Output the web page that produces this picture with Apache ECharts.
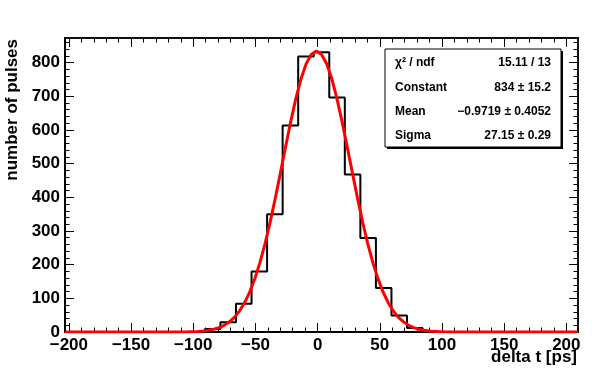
<!DOCTYPE html>
<html>
<head>
<meta charset="utf-8">
<script src="https://cdn.jsdelivr.net/npm/echarts@6/dist/echarts.min.js"></script>
<style>
  html, body { margin: 0; padding: 0; background: #fff; }
  #chart { width: 598px; height: 370px; }
</style>
</head>
<body>
<div id="chart"></div>
<script>
// histogram range and binning
var xMin = -203.125;
var xMax = 209.375;
var binWidth = 12.5;
var yMax = 873;

// bin contents, left to right
var counts = [0, 0, 0, 0, 0, 0, 0, 0, 0,
    9, 29, 84, 180, 350, 613, 818, 831, 696, 468, 279, 131, 49, 12,
    0, 0, 0, 0, 0, 0, 0, 0, 0, 0];

// gaussian fit result (from stats box)
var fitConstant = 834;
var fitMean = -0.9719;
var fitSigma = 27.15;
var fitNpx = 100;

var statsLabels = ['\u03c7\u00b2 / ndf', 'Constant', 'Mean', 'Sigma'];
var statsValues = ['15.11 / 13', '834 \u00b1 15.2', '\u22120.9719 \u00b1 0.4052', '27.15 \u00b1 0.29'];

var xMajor = [-200, -150, -100, -50, 0, 50, 100, 150, 200];
var xMinor = [];
for (var v = -200; v <= 200; v += 10) xMinor.push(v);
var yMajor = [0, 100, 200, 300, 400, 500, 600, 700, 800];
var yMinor = [];
for (var w = 0; w <= 860; w += 20) yMinor.push(w);

var font = '"Liberation Sans", Arial, Helvetica, sans-serif';

// histogram outline
var histLine = [[xMin, 0]];
counts.forEach(function (c, i) {
    var lo = xMin + i * binWidth;
    histLine.push([lo, c]);
    histLine.push([lo + binWidth, c]);
});
histLine.push([xMax, 0]);

// fit function sampled like a TF1
var fitLine = [];
for (var k = 0; k <= fitNpx; k++) {
    var x = xMin + (xMax - xMin) * k / fitNpx;
    var t = (x - fitMean) / fitSigma;
    fitLine.push([x, fitConstant * Math.exp(-0.5 * t * t)]);
}

function xAxisDef(pos, vals, len, withLabel) {
    return {
        type: 'value', position: pos, min: xMin, max: xMax,
        axisLine: {show: true, onZero: false, lineStyle: {color: '#000', width: pos == 'bottom' ? 2 : 1.5}},
        axisTick: {show: true, inside: true, length: len, customValues: vals, lineStyle: {color: '#000', width: 1}},
        axisLabel: {
            show: withLabel, customValues: vals, margin: 5,
            color: '#000', fontFamily: font, fontWeight: 'bold', fontSize: 17,
            formatter: function (val) { return String(val).replace('-', '\u2212'); }
        },
        splitLine: {show: false}
    };
}
function yAxisDef(pos, vals, len, withLabel) {
    return {
        type: 'value', position: pos, min: 0, max: yMax,
        axisLine: {show: true, onZero: false, lineStyle: {color: '#000', width: pos == 'left' ? 2 : 1.5}},
        axisTick: {show: true, inside: true, length: len, customValues: vals, lineStyle: {color: '#000', width: 1}},
        axisLabel: {
            show: withLabel, customValues: vals, margin: 5,
            color: '#000', fontFamily: font, fontWeight: 'bold', fontSize: 17
        },
        splitLine: {show: false}
    };
}

var statsGraphics = [
    {type: 'rect', shape: {x: 387, y: 51, width: 176, height: 98}, style: {fill: '#000'}},
    {type: 'rect', shape: {x: 385, y: 49, width: 176, height: 98}, style: {fill: '#fff', stroke: '#000', lineWidth: 1}}
];
statsLabels.forEach(function (lab, i) {
    var yy = 63 + i * 24.2;
    statsGraphics.push({type: 'text', x: 395, y: yy, style: {text: lab, fill: '#000', font: 'bold 12px ' + font, align: 'left', verticalAlign: 'middle'}});
    statsGraphics.push({type: 'text', x: 551, y: yy, style: {text: statsValues[i], fill: '#000', font: 'bold 12px ' + font, align: 'right', verticalAlign: 'middle'}});
});

var chart = echarts.init(document.getElementById('chart'));
chart.setOption({
    animation: false,
    backgroundColor: '#fff',
    grid: {left: 65, top: 38, right: 20, bottom: 38, containLabel: false},
    xAxis: [
        xAxisDef('bottom', xMajor, 9, true),
        xAxisDef('bottom', xMinor, 4.5, false),
        xAxisDef('top', xMajor, 9, false),
        xAxisDef('top', xMinor, 4.5, false)
    ],
    yAxis: [
        yAxisDef('left', yMajor, 9, true),
        yAxisDef('left', yMinor, 4.5, false),
        yAxisDef('right', yMajor, 9, false),
        yAxisDef('right', yMinor, 4.5, false)
    ],
    series: [
        {
            name: 'hist', type: 'line', data: histLine, symbol: 'none',
            lineStyle: {color: '#000', width: 2}, z: 2
        },
        {
            name: 'fit', type: 'line', data: fitLine, symbol: 'none', smooth: false,
            lineStyle: {color: '#ff0000', width: 3}, z: 3
        }
    ],
    graphic: [
        {
            type: 'text', x: 12, y: 39, rotation: Math.PI / 2,
            style: {text: 'number of pulses', fill: '#000', font: 'bold 17px ' + font, align: 'right', verticalAlign: 'middle'}
        },
        {
            type: 'text', x: 577, y: 357,
            style: {text: 'delta t [ps]', fill: '#000', font: 'bold 17px ' + font, align: 'right', verticalAlign: 'middle'}
        },
        {type: 'group', children: statsGraphics, z: 100}
    ]
});
</script>
</body>
</html>
